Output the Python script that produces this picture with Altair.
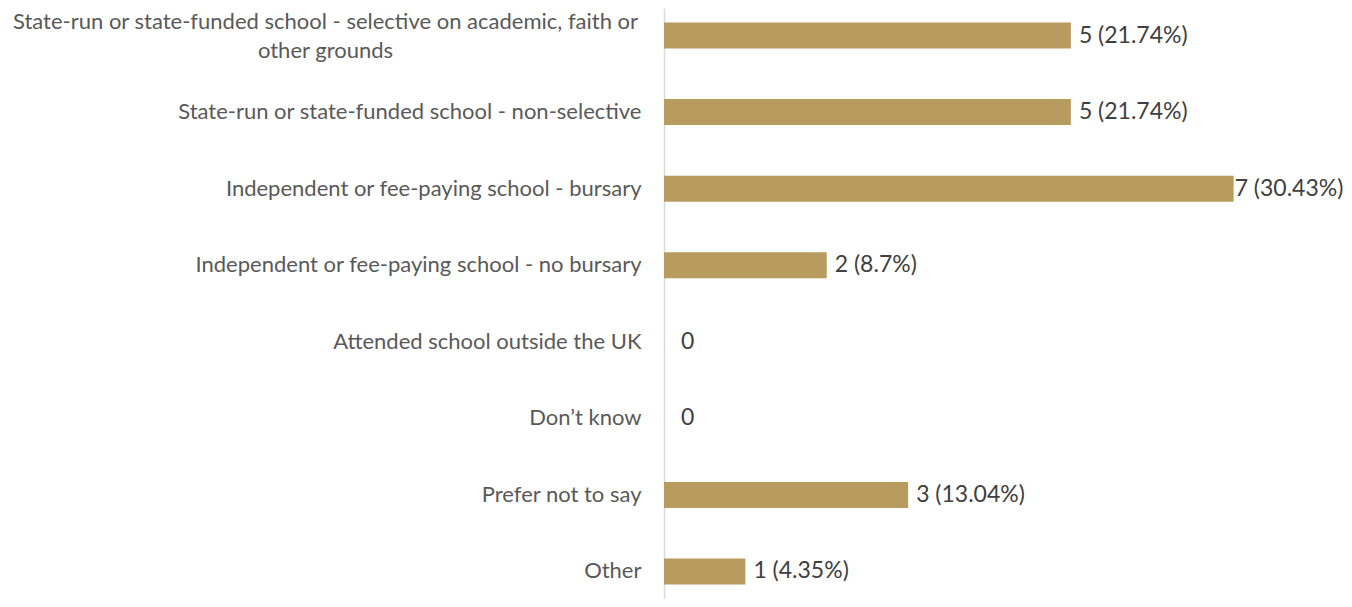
import altair as alt
import pandas as pd

categories = [
    "State-run or state-funded school - selective on academic, faith or other grounds",
    "State-run or state-funded school - non-selective",
    "Independent or fee-paying school - bursary",
    "Independent or fee-paying school - no bursary",
    "Attended school outside the UK",
    "Don\u2019t know",
    "Prefer not to say",
    "Other",
]
counts = [5, 5, 7, 2, 0, 0, 3, 1]
percents = ["21.74%", "21.74%", "30.43%", "8.7%", "", "", "13.04%", "4.35%"]

labels = [f"{c} ({p})" if c > 0 else f"{c}" for c, p in zip(counts, percents)]
df = pd.DataFrame({"category": categories, "count": counts, "label": labels})

FONT = "Lato"
BAR = "#B89B5E"

split_expr = (
    "indexof(datum.label, 'faith or ') > 0 ? "
    "[substring(datum.label, 0, indexof(datum.label, 'faith or ') + 8), "
    "substring(datum.label, indexof(datum.label, 'faith or ') + 9)] : datum.label"
)
is_long = "indexof(datum.label, 'faith or ') > 0"

y = alt.Y(
    "category:N",
    sort=categories,
    title=None,
    scale=alt.Scale(paddingInner=0.66, paddingOuter=0.19),
    axis=alt.Axis(
        ticks=False,
        grid=False,
        domainColor="#D9D9D9",
        domainWidth=1.5,
        labelFont=FONT,
        labelFontSize=22,
        labelColor="#595959",
        labelLimit=800,
        labelLineHeight=29,
        labelExpr=split_expr,
        labelAlign={"condition": {"test": is_long, "value": "center"}, "value": "right"},
        labelPadding={"condition": {"test": is_long, "value": 339}, "value": 23},
        labelOffset={"condition": {"test": is_long, "value": -14}, "value": 0},
    ),
)
x = alt.X("count:Q", scale=alt.Scale(domain=[0, 8]), axis=None)

base = alt.Chart(df).encode(y=y, x=x)
bars = base.mark_bar(color=BAR, size=26).transform_filter("datum.count > 0")

def txt(dx):
    return base.mark_text(align="left", baseline="middle", dx=dx, font=FONT,
                          fontSize=23, color="#404040").encode(text="label:N")

t_norm = txt(8).transform_filter("datum.count > 0 && datum.count < 7")
t_zero = txt(17).transform_filter("datum.count == 0")
t_max = txt(1).transform_filter("datum.count >= 7")

chart = (
    alt.layer(bars, t_norm, t_zero, t_max)
    .properties(
        width=651,
        height=591,
        background="white",
        autosize=alt.AutoSizeParams(type="none"),
        padding={"left": 656, "top": 0, "right": 29, "bottom": 0},
    )
    .configure_view(strokeWidth=0, stroke="transparent")
)

chart.save("out.html", embed_options={"renderer": "svg", "actions": False})
